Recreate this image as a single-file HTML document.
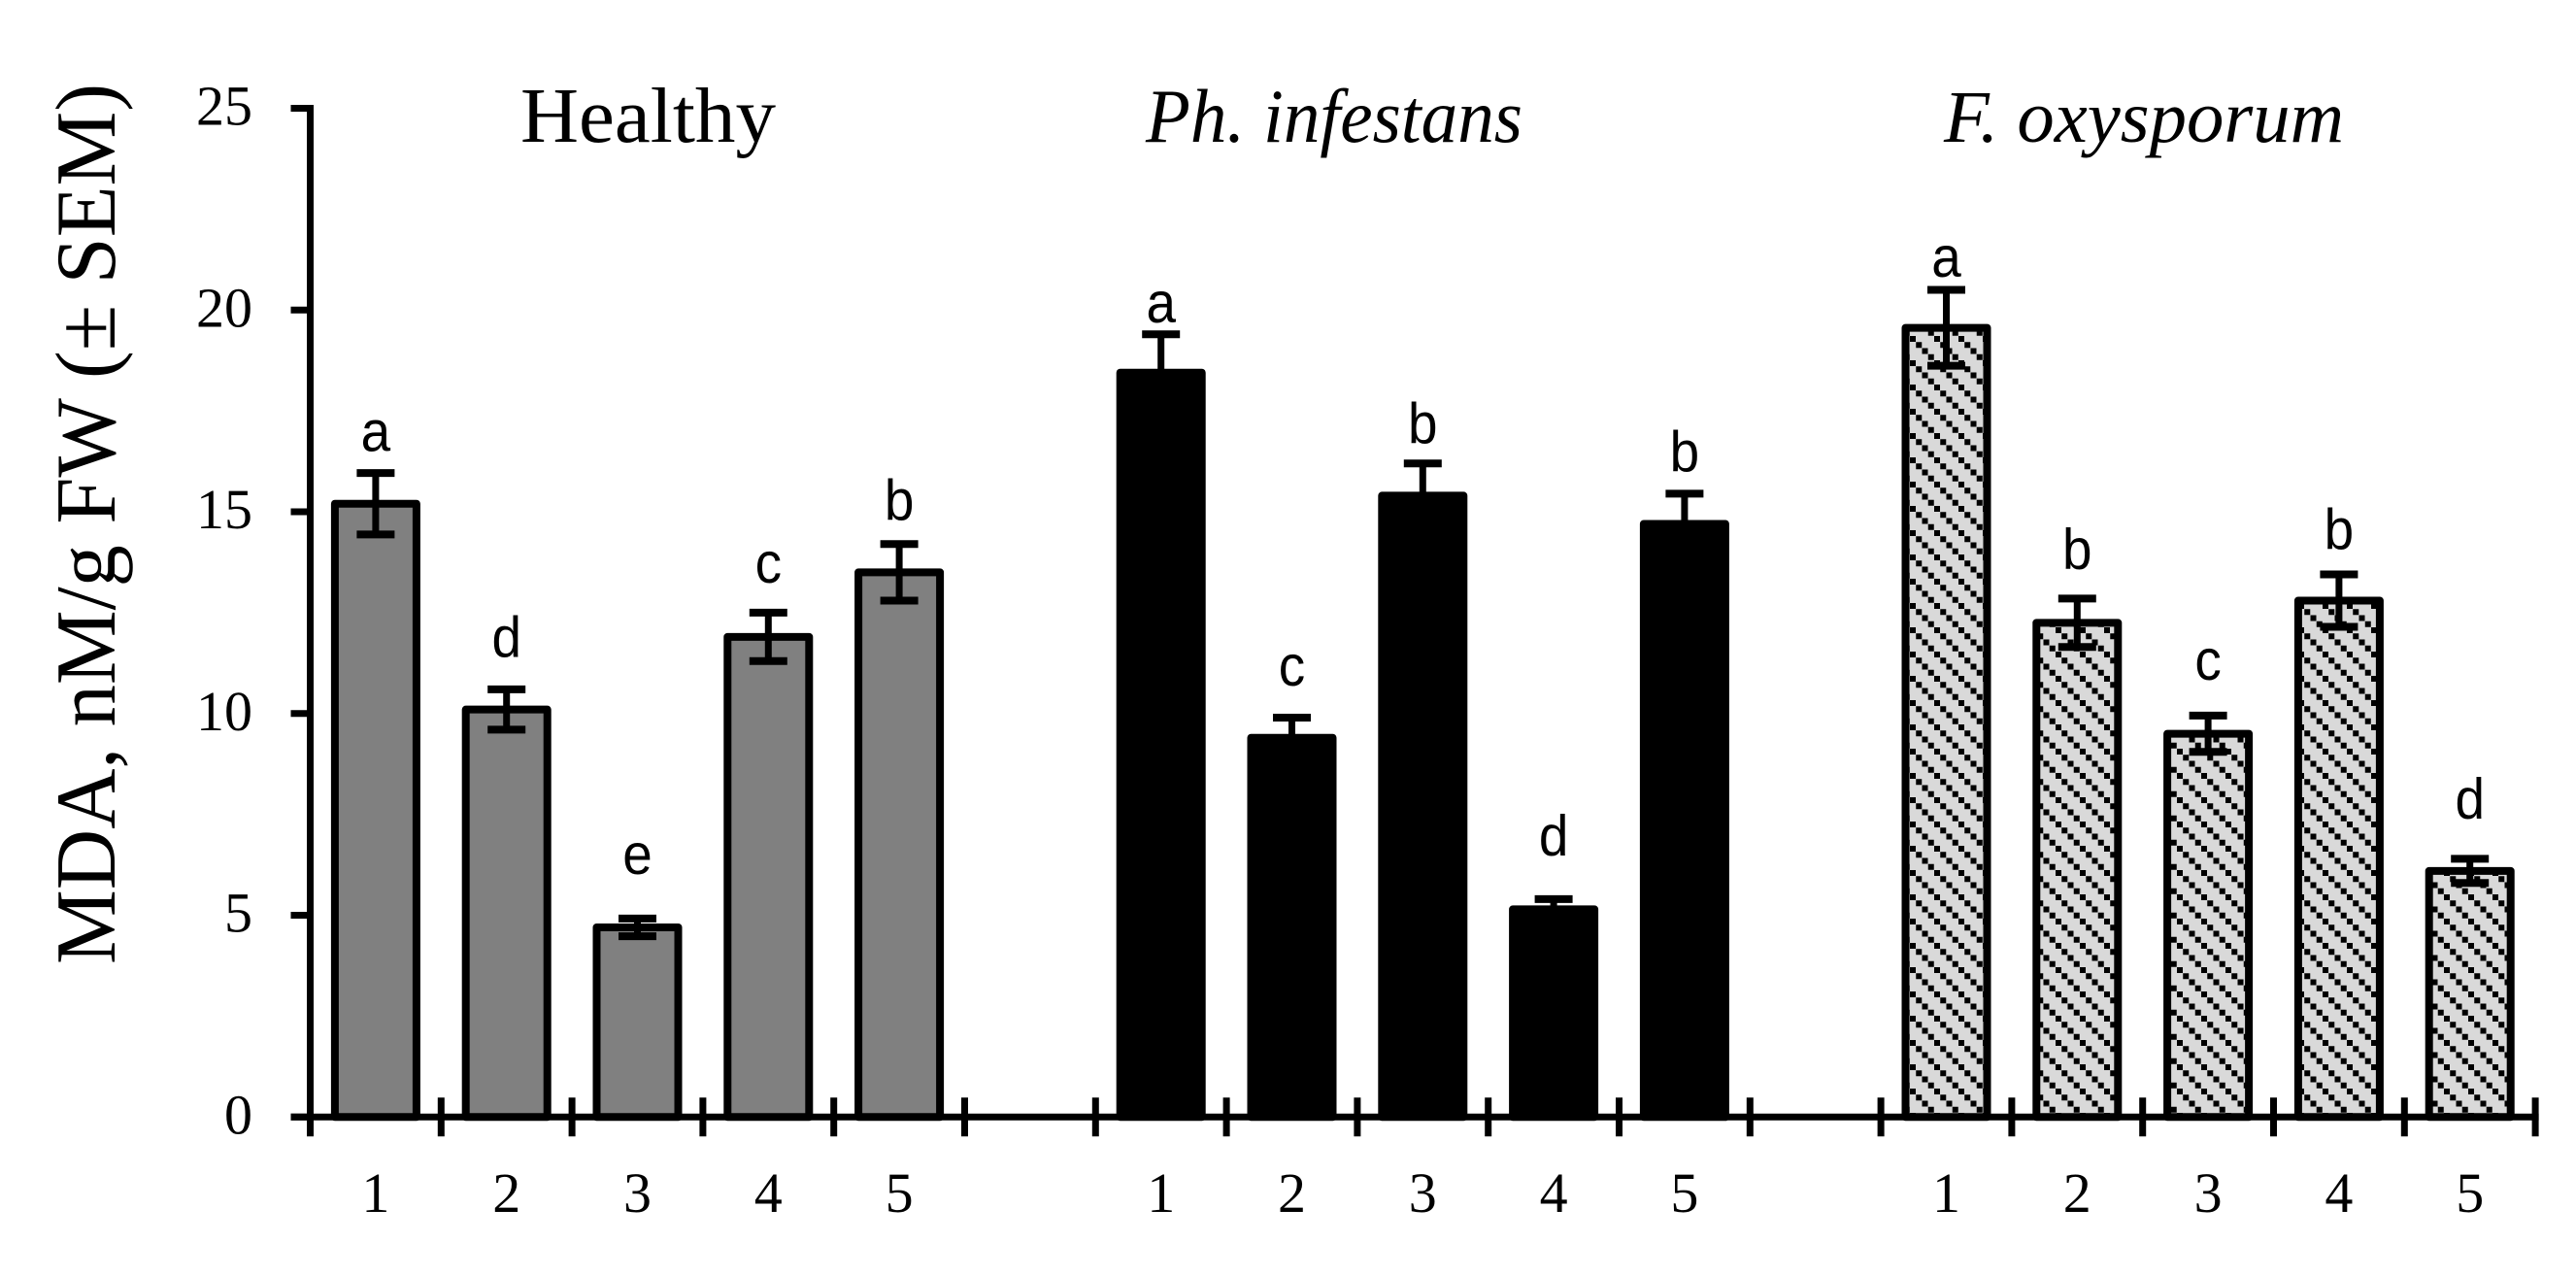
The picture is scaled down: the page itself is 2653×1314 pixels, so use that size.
<!DOCTYPE html>
<html>
<head>
<meta charset="utf-8">
<title>MDA bar chart</title>
<style>
html,body{margin:0;padding:0;background:#fff;width:2653px;height:1314px;overflow:hidden}
svg{display:block}
text{fill:#000}
.serif{font-family:"Liberation Serif",serif}
.sans{font-family:"Liberation Sans",sans-serif}
</style>
</head>
<body>
<svg id="chart" xmlns="http://www.w3.org/2000/svg" width="2653" height="1314" viewBox="0 0 2653 1314">
<defs>
<pattern id="hatch" patternUnits="userSpaceOnUse" x="1967" y="346" width="25" height="25">
<rect width="25" height="25" fill="#d9d9d9"/>
<rect x="0" y="0" width="6" height="6" fill="#000"/>
<rect x="6.25" y="6.25" width="6" height="6" fill="#000"/>
<rect x="12.5" y="12.5" width="6" height="6" fill="#000"/>
<rect x="18.75" y="18.75" width="6" height="6" fill="#000"/>
</pattern>
</defs>
<text class="serif" font-size="88" text-anchor="middle" textLength="907" lengthAdjust="spacingAndGlyphs" transform="translate(118 539.5) rotate(-90)">MDA, nM/g FW (± SEM)</text>
<text class="serif" x="536" y="146" font-size="80" textLength="263" lengthAdjust="spacingAndGlyphs">Healthy</text>
<text class="serif" x="1180" y="146" font-size="78" font-style="italic" textLength="388" lengthAdjust="spacingAndGlyphs">Ph. infestans</text>
<text class="serif" x="2002" y="146" font-size="76" font-style="italic" textLength="412" lengthAdjust="spacingAndGlyphs">F. oxysporum</text>
<g id="bars"></g>
<g id="axes"></g>
</svg>
<script>
const yTickLabels = ["0", "5", "10", "15", "20", "25"];
const xCategories = ["1", "2", "3", "4", "5"];
const healthyValues = [15.2, 10.1, 4.7, 11.9, 13.5];
const healthyErrors = [0.76, 0.5, 0.22, 0.6, 0.7];
const healthyLetters = ["a", "d", "e", "c", "b"];
const healthyLetterLevels = [16.5, 11.4, 6.03, 13.25, 14.8];
const infestansValues = [18.45, 9.4, 15.4, 5.15, 14.7];
const infestansErrors = [0.95, 0.5, 0.8, 0.25, 0.75];
const infestansLetters = ["a", "c", "b", "d", "b"];
const infestansLetterLevels = [19.7, 10.69, 16.7, 6.48, 16.0];
const oxysporumValues = [19.56, 12.25, 9.5, 12.8, 6.1];
const oxysporumErrors = [0.94, 0.6, 0.45, 0.65, 0.3];
const oxysporumLetters = ["a", "b", "c", "b", "d"];
const oxysporumLetterLevels = [20.82, 13.58, 10.84, 14.08, 7.4];

const NS = "http://www.w3.org/2000/svg";
const X0 = 319.5, SLOT = 134.8, Y0 = 1150.3, UNIT = 41.55;
const xScale = s => X0 + s * SLOT;
const yScale = v => Y0 - v * UNIT;
const barsLayer = document.getElementById("bars");
const axesLayer = document.getElementById("axes");

function make(tag, attrs, parent) {
  const el = document.createElementNS(NS, tag);
  for (const k in attrs) el.setAttribute(k, attrs[k]);
  parent.appendChild(el);
  return el;
}

function drawGroup(groupIndex, groupKey, values, errors, letters, levels, fill) {
  values.forEach((v, i) => {
    const cx = xScale(groupIndex * 6 + i + 0.5);
    const top = yScale(v);
    const bar = make("rect", {x: cx - 42, y: top, width: 84, height: Y0 - top, fill: fill, stroke: "#000", "stroke-width": 8, "stroke-linejoin": "round"}, barsLayer);
    
    

    const hi = yScale(v + errors[i]);
    const lo = yScale(v - errors[i]);
    const stem = make("line", {x1: cx, x2: cx, y1: hi, y2: lo, stroke: "#000", "stroke-width": 7}, barsLayer);
    
    
    const capTop = make("line", {x1: cx - 19.5, x2: cx + 19.5, y1: hi, y2: hi, stroke: "#000", "stroke-width": 8}, barsLayer);
    
    
    const capBottom = make("line", {x1: cx - 19.5, x2: cx + 19.5, y1: lo, y2: lo, stroke: "#000", "stroke-width": 8}, barsLayer);
    
    

    const letter = make("text", {transform: "translate(" + cx + " " + yScale(levels[i]) + ") scale(0.93 1)", "font-size": 59, "text-anchor": "middle", class: "sans"}, barsLayer);
    letter.textContent = letters[i];
    
    

    const cat = make("text", {x: cx, y: 1248, "font-size": 58, "text-anchor": "middle", class: "serif"}, axesLayer);
    cat.textContent = xCategories[i];
    
    
  });
}

drawGroup(0, "healthy", healthyValues, healthyErrors, healthyLetters, healthyLetterLevels, "#808080");
drawGroup(1, "ph-infestans", infestansValues, infestansErrors, infestansLetters, infestansLetterLevels, "#000");
drawGroup(2, "f-oxysporum", oxysporumValues, oxysporumErrors, oxysporumLetters, oxysporumLetterLevels, "url(#hatch)");

const yAxis = make("line", {x1: X0, x2: X0, y1: yScale(25) - 3.5, y2: Y0, stroke: "#000", "stroke-width": 7}, axesLayer);


const xAxis = make("line", {x1: X0 - 20, x2: xScale(17) + 3.5, y1: Y0, y2: Y0, stroke: "#000", "stroke-width": 7}, axesLayer);



yTickLabels.forEach(t => {
  const y = yScale(+t);
  const tick = make("line", {x1: X0 - 20, x2: X0, y1: y, y2: y, stroke: "#000", "stroke-width": 7}, axesLayer);
  
  
  const label = make("text", {x: 260, y: y + 17, "font-size": 58, "text-anchor": "end", class: "serif"}, axesLayer);
  label.textContent = t;
  
  
});

for (let s = 0; s <= 17; s++) {
  const tick = make("line", {x1: xScale(s), x2: xScale(s), y1: Y0 - 20, y2: Y0 + 20, stroke: "#000", "stroke-width": 7}, axesLayer);
  
  
}
</script>
</body>
</html>
